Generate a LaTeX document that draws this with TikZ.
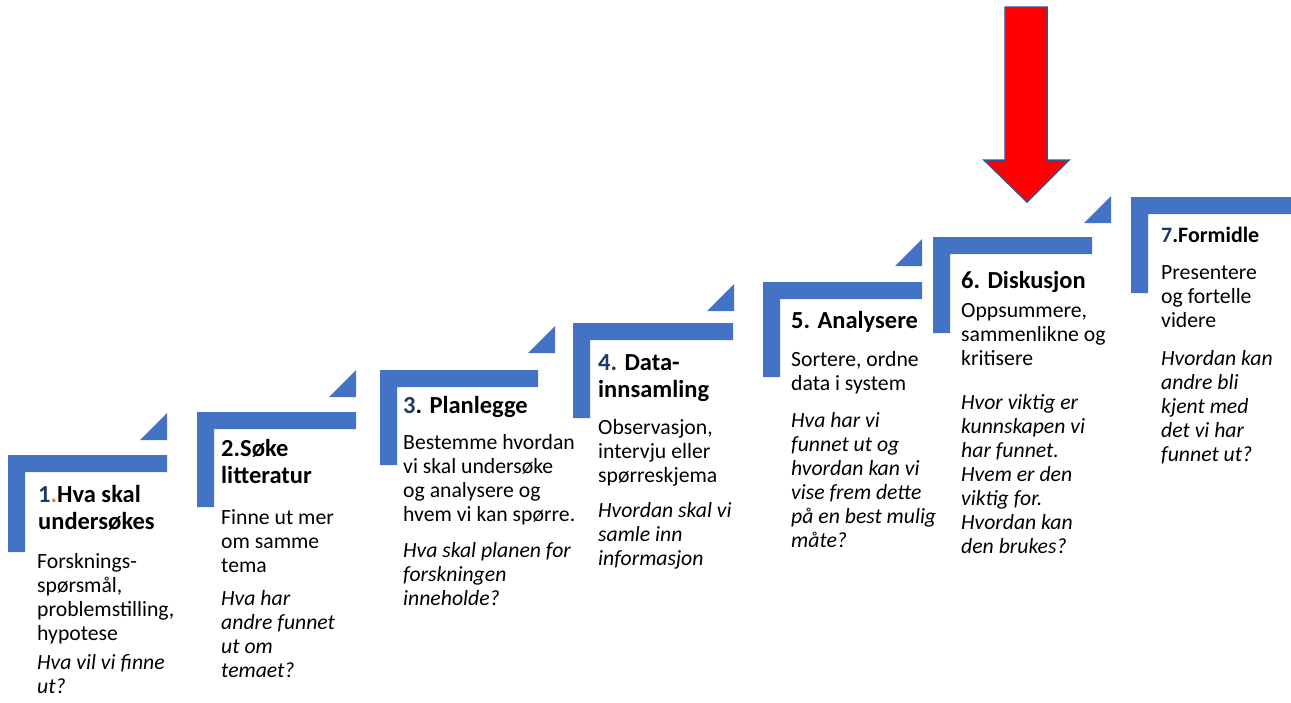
\documentclass[tikz,border=0pt]{standalone}
\usepackage{fontspec}
\setmainfont{Carlito}
\definecolor{stepblue}{HTML}{4472C4}
\definecolor{navy}{HTML}{1F3864}
\definecolor{dotorange}{HTML}{ED7D31}
\definecolor{arrowedge}{HTML}{2F5597}
\begin{document}
\begin{tikzpicture}[x=1pt,y=-1pt,
  ttl/.style={anchor=base west,inner sep=0pt,align=left,font=\bfseries\fontsize{24.5}{27}\selectfont},
  ttlsmall/.style={ttl,font=\bfseries\fontsize{22}{26}\selectfont},
  bod/.style={anchor=base west,inner sep=0pt,align=left,font=\fontsize{21.7}{24}\selectfont},
  qst/.style={bod,font=\itshape\fontsize{21.7}{24}\selectfont}]
\useasboundingbox (0,0) rectangle (1291,702);
% L-shaped steps: L, T, R, B
\foreach \L/\T/\R/\B in {8/455/167/552, 197/412/356/507, 380/370/538/465, 573/323/733/418, 763/282/922/377, 933/237/1092/333, 1131/197/1291/293}{
  \fill[stepblue] (\L,\T) -- (\R,\T) -- (\R,\T+17) -- (\L+17,\T+17) -- (\L+17,\B) -- (\L,\B) -- cycle;
}
% small triangles: right x, bottom y
\foreach \X/\Y in {167/440, 356/397, 555/353, 734/311, 922/266, 1111/223}{
  \fill[stepblue] (\X-27,\Y) -- (\X,\Y) -- (\X,\Y-27) -- cycle;
}
% red arrow
\draw[fill=red,draw=arrowedge,line width=1.5pt,line join=miter] (1005,7) -- (1047,7) -- (1047,160) -- (1069,160) -- (1027,202) -- (984,160) -- (1005,160) -- cycle;
% (node positions are the baselines of the LAST line of each text)
% step 1
\node[ttl] (t1) at (38,529) {{\color{navy}1}{\color{dotorange}.}Hva skal\\undersøkes};
\node[bod] (b1) at (37,640) {Forsknings-\\spørsmål,\\problemstilling,\\hypotese};
\node[qst] (q1) at (37,693) {Hva vil vi finne\\ut?};
% step 2
\node[ttl] (t2) at (221,483) {2.Søke\\litteratur};
\node[bod] (b2) at (221,572) {Finne ut mer\\om samme\\tema};
\node[qst] (q2) at (221,677) {Hva har\\andre funnet\\ut om\\temaet?};
% step 3
\node[ttl] (t3) at (403,413) {{\color{navy}3}. Planlegge};
\node[bod] (b3) at (403,521) {Bestemme hvordan\\vi skal undersøke\\og analysere og\\hvem vi kan spørre.};
\node[qst] (q3) at (403,605) {Hva skal planen for\\forskningen\\inneholde?};
% step 4
\node[ttl] (t4) at (598,397) {{\color{navy}4.} Data-\\innsamling};
\node[bod] (b4) at (598,482) {Observasjon,\\intervju eller\\spørreskjema};
\node[qst] (q4) at (598,565) {Hvordan skal vi\\samle inn\\informasjon};
% step 5
\node[ttl] (t5) at (791,328) {5. Analysere};
\node[bod] (b5) at (791,390) {Sortere, ordne\\data i system};
\node[qst] (q5) at (791,547) {Hva har vi\\funnet ut og\\hvordan kan vi\\vise frem dette\\på en best mulig\\måte?};
% step 6
\node[ttl] (t6) at (961,288) {6. Diskusjon};
\node[bod] (b6) at (961,365) {Oppsummere,\\sammenlikne og\\kritisere};
\node[qst] (q6) at (961,553) {Hvor viktig er\\kunnskapen vi\\har funnet.\\Hvem er den\\viktig for.\\Hvordan kan\\den brukes?};
% step 7
\node[ttlsmall] (t7) at (1161,242) {{\color{navy}7}.Formidle};
\node[bod] (b7) at (1161,327) {Presentere\\og fortelle\\videre};
\node[qst] (q7) at (1161,461) {Hvordan kan\\andre bli\\kjent med\\det vi har\\funnet ut?};
\end{tikzpicture}
\end{document}
